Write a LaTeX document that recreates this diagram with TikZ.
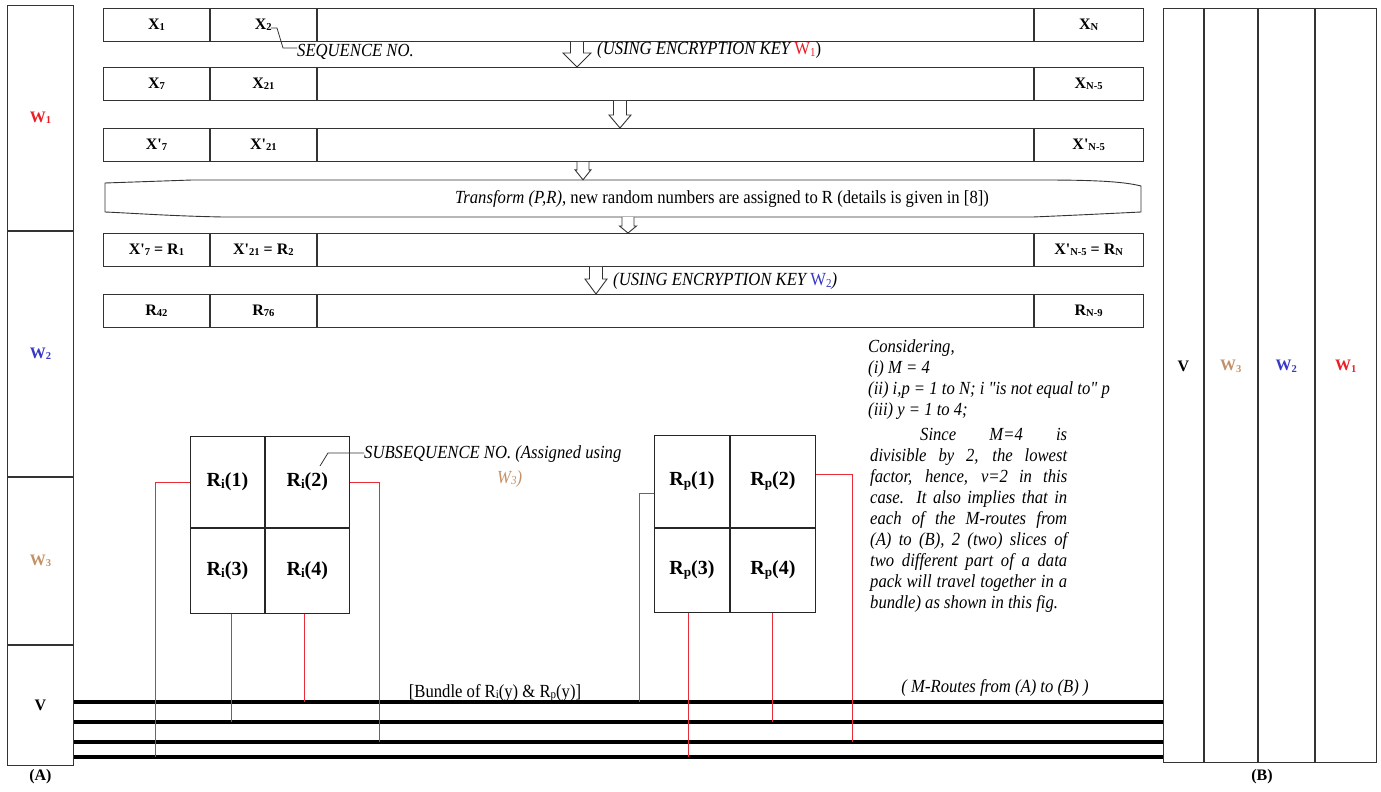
\documentclass[tikz,border=0pt]{standalone}
\usepackage{fontspec}
\usepackage{graphicx}
\setmainfont{Liberation Serif}
\newfontfamily\narrowfont{Liberation Serif}[FakeStretch=0.9]
\newfontfamily\cellfont{Liberation Serif}[Ligatures=TeXOff]
\usetikzlibrary{positioning,calc}

\definecolor{wone}{RGB}{235,30,40}
\definecolor{wtwo}{RGB}{55,55,200}
\definecolor{wthree}{RGB}{195,145,105}
\definecolor{tapred}{RGB}{232,45,55}

\newcommand\sub[1]{\raisebox{-0.1em}{\scalebox{0.66}{#1}}}
% hollow block arrow: x, from, to, shaft half width, head half width, head length
\newcommand\blockdown[6]{%
  \draw[hollow] let \p1=(#2), \p2=(#3) in
    (#1pt-#4pt,\y1) -- (#1pt-#4pt,\y2+#6pt) -- (#1pt-#5pt,\y2+#6pt) -- (#1pt,\y2)
    -- (#1pt+#5pt,\y2+#6pt) -- (#1pt+#4pt,\y2+#6pt) -- (#1pt+#4pt,\y1);}

\begin{document}
\begin{tikzpicture}[x=1pt, y=-1pt,
  cell/.style={draw=black!80, line width=0.9pt, anchor=north west, minimum height=33pt, inner sep=0pt, font=\fontsize{16}{18}\cellfont\bfseries},
  col/.style={draw=black!80, line width=0.9pt, anchor=north west, inner sep=0pt, font=\fontsize{16}{18}\cellfont\bfseries},
  collab/.style={font=\fontsize{16}{18}\cellfont\bfseries, yshift=19pt},
  quad/.style={draw=black!85, line width=0.9pt, anchor=north west, inner sep=0pt, font=\fontsize{20}{24}\cellfont\bfseries},
  note/.style={inner sep=0pt, font=\fontsize{18.5}{21}\narrowfont\itshape},
  route/.style={line width=3.5pt},
  tap/.style={draw=tapred, line width=0.9pt},
  hollow/.style={draw=black!80, line width=0.9pt, fill=white},
  lead/.style={draw=black!80, line width=0.8pt}
]
\useasboundingbox (0,0) rectangle (1381,792);

% side (A)
\node[col, minimum width=66pt, minimum height=225pt] (aw1) at (7,5) {\textcolor{wone}{W\sub{1}}};
\node[col, minimum width=66pt, minimum height=245pt] (aw2) at (aw1.south west) {\textcolor{wtwo}{W\sub{2}}};
\node[col, minimum width=66pt, minimum height=167pt] (aw3) at (aw2.south west) {\textcolor{wthree}{W\sub{3}}};
\node[col, minimum width=66pt, minimum height=120pt] (av) at (aw3.south west) {V};
\node[below=4pt of av, inner sep=0pt, font=\fontsize{16}{18}\cellfont\bfseries] (alab) {(A)};

% side (B)
\node[col, minimum width=40pt, minimum height=754pt, label={[collab]center:V}] (bv) at (1163,8) {};
\node[col, minimum width=53pt, minimum height=754pt, label={[collab]center:{\textcolor{wthree}{W\sub{3}}}}] (bw3) at (bv.north east) {};
\node[col, minimum width=56pt, minimum height=754pt, label={[collab]center:{\textcolor{wtwo}{W\sub{2}}}}] (bw2) at (bw3.north east) {};
\node[col, minimum width=61pt, minimum height=754pt, label={[collab]center:{\textcolor{wone}{W\sub{1}}}}] (bw1) at (bw2.north east) {};
\node[inner sep=0pt, font=\fontsize{16}{18}\cellfont\bfseries] (blab) at (1262,777) {(B)};

% sequence rows
\foreach \n/\t/\lA/\lB/\lD in {
    1/8/{X\sub{1}}/{X\sub{2}}/{X\sub{N}},
    2/67/{X\sub{7}}/{X\sub{21}}/{X\sub{N-5}},
    3/128/{X'\sub{7}}/{X'\sub{21}}/{X'\sub{N-5}},
    4/233/{X'\sub{7} = R\sub{1}}/{X'\sub{21} = R\sub{2}}/{X'\sub{N-5} = R\sub{N}},
    5/294/{R\sub{42}}/{R\sub{76}}/{R\sub{N-9}}}
{
  \node[cell, minimum width=106pt] (r\n-a) at (103,\t) {\lA};
  \node[cell, minimum width=106pt] (r\n-b) at (r\n-a.north east) {\lB};
  \node[cell, minimum width=716pt] (r\n-c) at (r\n-b.north east) {};
  \node[cell, minimum width=109pt] (r\n-d) at (r\n-c.north east) {\lD};
}

% transform step
\draw[draw=black!80, line width=0.9pt] (105,183) -- (192,180) -- (1043,180)
  .. controls (1100,180) and (1125,182) .. (1141,186) -- (1141,212)
  .. controls (1120,213) and (1080,215) .. (1033,217) -- (223,217)
  .. controls (170,216) and (130,213) .. (105,212) -- cycle;
\node[inner sep=0pt, minimum height=37pt, font=\fontsize{18.5}{21}\narrowfont] (trf) at (722,198.5)
  {\textit{Transform (P,R)}, new random numbers are assigned to R (details is given in [8])};

\blockdown{577}{r1-c.south}{r2-c.north}{6.5}{14}{14}
\blockdown{620}{r2-c.south}{r3-c.north}{6.5}{11}{13}
\blockdown{583}{r3-c.south}{trf.north}{6}{8}{10}
\blockdown{628}{trf.south}{r4-c.north}{6}{8.5}{7}
\blockdown{596}{r4-c.south}{r5-c.north}{6.5}{11}{15}

\node[note, anchor=west] (key1) at (597,50) {(USING ENCRYPTION KEY {\upshape\textcolor{wone}{W\sub{1}})}};
\node[note, anchor=west] (key2) at (613,281) {(USING ENCRYPTION KEY {\upshape\textcolor{wtwo}{W\sub{2}}})};

\node[note, anchor=west] (seq) at (297,52) {SEQUENCE NO.};
\coordinate (x2end) at (271,28);
\draw[lead] (x2end) -- (277,28) -- (283,48) -- (seq.west |- 0,48);

% subsequence blocks
\node[quad, minimum width=74pt, minimum height=91pt] (ri1) at (190,436) {R\sub{i}(1)};
\node[quad, minimum width=84pt, minimum height=91pt] (ri2) at (ri1.north east) {R\sub{i}(2)};
\node[quad, minimum width=74pt, minimum height=85pt] (ri3) at (ri1.south west) {R\sub{i}(3)};
\node[quad, minimum width=84pt, minimum height=85pt] (ri4) at (ri3.north east) {R\sub{i}(4)};

\node[quad, minimum width=75pt, minimum height=92pt] (rp1) at (654,435) {R\sub{p}(1)};
\node[quad, minimum width=85pt, minimum height=92pt] (rp2) at (rp1.north east) {R\sub{p}(2)};
\node[quad, minimum width=75pt, minimum height=84pt] (rp3) at (rp1.south west) {R\sub{p}(3)};
\node[quad, minimum width=85pt, minimum height=84pt] (rp4) at (rp3.north east) {R\sub{p}(4)};

\node[note, anchor=north west, align=left] (subseq) at (364,445)
  {SUBSEQUENCE NO. (Assigned using\\[4pt]\hspace*{133pt}\textcolor{wthree}{W\sub{3})}};
\coordinate (ri2end) at (320,466);
\draw[lead] (ri2end) -- (328,453) -- (subseq.west |- 0,453);

% explanation
\node[note, anchor=north west, align=left] (consid) at (868,339)
  {Considering,\\(i) M = 4\\(ii) i,p = 1 to N; i "is not equal to" p\\(iii) y = 1 to 4;};
\node[note, anchor=north west, text width=197pt, align=justify] (since) at (870,428)
  {\hspace*{50pt}Since M=4 is\linebreak divisible by 2, the lowest\linebreak factor, hence, v=2 in this\linebreak
   case. It also implies that in\linebreak each of the M-routes from\linebreak (A) to (B), 2 (two) slices of\linebreak
   two different part of a data\linebreak pack will travel together in a\linebreak bundle) as shown in this fig.};

% routes
\foreach \y [count=\k] in {702,722,742,757}
  \draw[route] (av.east |- 0,\y) coordinate (ra\k) -- (bv.west |- 0,\y) coordinate (rb\k);

\node[inner sep=0pt, anchor=base, font=\fontsize{18.5}{21}\narrowfont] (bund) at (495,697) {[Bundle of R\sub{i}(y) \& R\sub{p}(y)]};
\node[note, anchor=base] (mroute) at (995,692) {( M-Routes from (A) to (B) )};

% taps into the routes
\draw[tap] (ri1.west) -| (155,0 |- ra4);
\draw[tap] (ri2.east) -| (379,0 |- ra3);
\draw[tap] (231,0 |- ri3.south) -- (231,0 |- ra2);
\draw[tap] (304,0 |- ri4.south) -- (304,0 |- ra1);
\draw[tap] ([yshift=-12pt]rp1.west) -| (639,0 |- ra1);
\draw[tap] ([yshift=7pt]rp2.east) -| (852,0 |- ra3);
\draw[tap] (688,0 |- rp3.south) -- (688,0 |- ra4);
\draw[tap] (rp4.south) -- (rp4.south |- ra2);
\end{tikzpicture}
\end{document}
